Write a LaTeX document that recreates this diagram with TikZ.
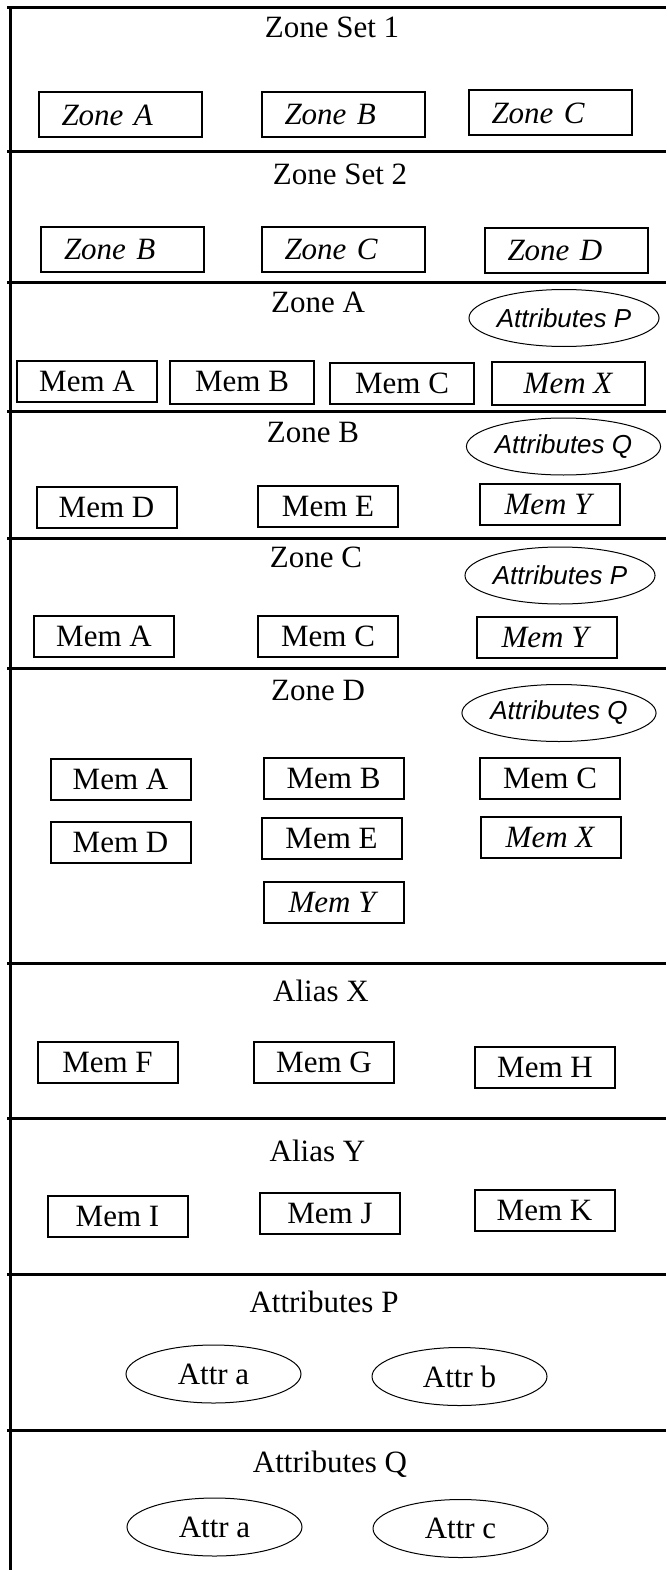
\documentclass[tikz,border=0pt]{standalone}
\usepackage{fontspec}
\setmainfont{Liberation Serif}
\newfontfamily\arialfont{Liberation Sans}
\usetikzlibrary{shapes.geometric}

\begin{document}
\begin{tikzpicture}[x=1pt, y=-1pt,
    frame/.style={line width=3pt},
    title/.style={anchor=base, inner sep=0pt, font=\fontsize{31}{36}\selectfont},
    zonebox/.style={draw, line width=2pt, inner xsep=23pt, inner ysep=0pt, text width=117pt, align=left, minimum height=45pt, font=\fontsize{31}{36}\selectfont\itshape},
    membox/.style={draw, line width=2pt, inner sep=0pt, minimum width=140pt, minimum height=41pt, font=\fontsize{31}{36}\selectfont},
    attrtag/.style={ellipse, draw, line width=1pt, inner sep=0pt, minimum width=175pt, minimum height=57pt, font=\fontsize{26}{30}\selectfont\arialfont\itshape},
    attrell/.style={ellipse, draw, line width=1pt, inner sep=0pt, minimum width=175pt, minimum height=58pt, font=\fontsize{31}{36}\selectfont}]
    \useasboundingbox (0,0) rectangle (666,1570);
    % frame
    \draw[frame] (10,6) -- (10,1570);
    \foreach \y in {7.5,152,282,411,538,668,963,1118,1274,1430}
        \draw[frame] (7,\y) -- (666,\y);
    % zone sets
    \node[title] (zs1) at (332,38) {Zone Set 1};
    \node[zonebox] (zs1a) at (120,115) {Zone A};
    \node[zonebox] (zs1b) at (343,114.5) {Zone B};
    \node[zonebox] (zs1c) at (550,113) {Zone C};
    \node[title] (zs2) at (340,185) {Zone Set 2};
    \node[zonebox] (zs2b) at (122.5,249.5) {Zone B};
    \node[zonebox] (zs2c) at (343,249.5) {Zone C};
    \node[zonebox] (zs2d) at (566,250.5) {Zone D};
    % zones
    \node[title] (za) at (318,312) {Zone A};
    \node[attrtag] (zap) at (564,318) {Attributes P};
    \node[membox] (zaa) at (87,381) {Mem A};
    \node[membox, minimum width=144pt, minimum height=43pt] (zab) at (242,382) {Mem B};
    \node[membox, minimum width=144pt] (zac) at (402,383) {Mem C};
    \node[membox, minimum width=153pt, minimum height=43pt] (zax) at (568.5,383.5) {\textit{Mem X}};
    \node[title] (zb) at (313,442) {Zone B};
    \node[attrtag] (zbq) at (563.5,446.5) {Attributes Q};
    \node[membox] (zbd) at (106.5,507.5) {Mem D};
    \node[membox] (zbe) at (328,506) {Mem E};
    \node[membox] (zby) at (549.5,504.5) {\textit{Mem Y}};
    \node[title] (zc) at (316,567) {Zone C};
    \node[attrtag] (zcp) at (560,575.5) {Attributes P};
    \node[membox] (zca) at (104,636) {Mem A};
    \node[membox] (zcc) at (328,636) {Mem C};
    \node[membox] (zcy) at (546.5,637) {\textit{Mem Y}};
    \node[title] (zd) at (318,700) {Zone D};
    \node[attrtag] (zdq) at (559,713) {Attributes Q};
    \node[membox] (zda) at (120.5,779.5) {Mem A};
    \node[membox] (zdb) at (333.5,778.5) {Mem B};
    \node[membox] (zdc) at (550,778.5) {Mem C};
    \node[membox] (zdd) at (120.5,842.5) {Mem D};
    \node[membox] (zde) at (331.5,838.5) {Mem E};
    \node[membox] (zdx) at (550.5,837) {\textit{Mem X}};
    \node[membox] (zdy) at (333.5,902.5) {\textit{Mem Y}};
    % aliases
    \node[title] (ax) at (321,1001) {Alias X};
    \node[membox] (axf) at (107.5,1062) {Mem F};
    \node[membox] (axg) at (324,1062.5) {Mem G};
    \node[membox] (axh) at (545,1067) {Mem H};
    \node[title] (ay) at (317.5,1161) {Alias Y};
    \node[membox] (ayi) at (117.5,1216) {Mem I};
    \node[membox] (ayj) at (330,1213) {Mem J};
    \node[membox] (ayk) at (544.5,1210.5) {Mem K};
    % attributes
    \node[title] (ap) at (324,1312) {Attributes P};
    \node[attrell] (apa) at (213.5,1374) {Attr a};
    \node[attrell] (apb) at (459.5,1376.5) {Attr b};
    \node[title] (aq) at (330,1472) {Attributes Q};
    \node[attrell] (aqa) at (214.5,1527) {Attr a};
    \node[attrell] (aqc) at (460.5,1528.5) {Attr c};
\end{tikzpicture}
\end{document}
